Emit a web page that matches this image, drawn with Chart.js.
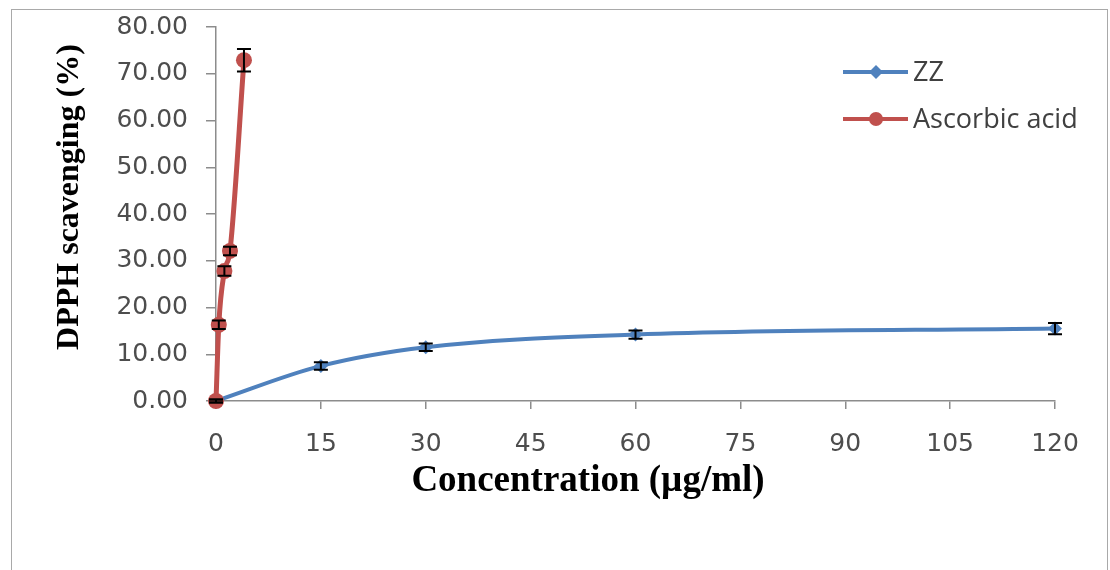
<!DOCTYPE html>
<html>
<head>
<meta charset="utf-8">
<script src="https://cdn.jsdelivr.net/npm/chart.js@4.4.1/dist/chart.umd.min.js"></script>
<style>
  html, body { margin: 0; padding: 0; background: #fff; overflow: hidden; }
  #frame { position: absolute; left: 11px; top: 9px; width: 1095px; height: 620px; border: 1.5px solid #a9a9a9; }
  #wrap { position: absolute; left: 0; top: 0; width: 1110px; height: 570px; }
</style>
</head>
<body>
<div id="frame"></div>
<div id="wrap"><canvas id="dpphChart"></canvas></div>
<script>
// values
const zzConc = [0, 15, 30, 60, 120];
const zzScavenging = [0, 7.5, 11.5, 14.2, 15.5];
const zzError = [0.3, 0.8, 0.8, 0.9, 1.2];

const ascorbicConc = [0, 0.4, 1.2, 2, 4];
const ascorbicScavenging = [0, 16.3, 27.8, 32.1, 72.9];
const ascorbicError = [0.3, 0.9, 1.0, 0.9, 2.4];

const xTicks = [0, 15, 30, 45, 60, 75, 90, 105, 120];
const yTicks = [0, 10, 20, 30, 40, 50, 60, 70, 80];

const seriesNames = ['ZZ', 'Ascorbic acid'];
const blue = '#4f81bd';
const red = '#c0504d';
const axisGrey = '#8c8c8c';
const labelGrey = '#4d4d4d';

const toPoints = (xs, ys) => xs.map((v, i) => ({ x: v, y: ys[i] }));

const errorBars = {
  id: 'errorBars',
  afterDatasetsDraw(chart) {
    const { ctx, scales: { x, y } } = chart;
    ctx.save();
    ctx.strokeStyle = '#000';
    ctx.lineWidth = 2;
    chart.data.datasets.forEach(ds => {
      ds.data.forEach((p, i) => {
        const e = ds.errors[i];
        if (!e) return;
        const px = x.getPixelForValue(p.x);
        const top = y.getPixelForValue(p.y + e);
        const bot = y.getPixelForValue(p.y - e);
        ctx.beginPath();
        ctx.moveTo(px, top); ctx.lineTo(px, bot);
        ctx.moveTo(px - 7, top); ctx.lineTo(px + 7, top);
        ctx.moveTo(px - 7, bot); ctx.lineTo(px + 7, bot);
        ctx.stroke();
      });
    });
    ctx.restore();
  }
};

// legend and axis titles drawn by hand so they can sit where the original has them
const extras = {
  id: 'extras',
  afterDraw(chart) {
    const ctx = chart.ctx;
    ctx.save();
    const rows = [
      { name: seriesNames[0], color: blue, style: 'rectRot', y: 72 },
      { name: seriesNames[1], color: red, style: 'circle', y: 119 }
    ];
    rows.forEach(r => {
      ctx.strokeStyle = r.color;
      ctx.lineWidth = 4;
      ctx.beginPath();
      ctx.moveTo(843, r.y); ctx.lineTo(908, r.y);
      ctx.stroke();
      ctx.fillStyle = r.color;
      Chart.helpers.drawPoint(ctx, { pointStyle: r.style, radius: 7, borderWidth: 0 }, 876, r.y);
      ctx.fillStyle = '#404040';
      ctx.font = '27px "Open Sans"';
      ctx.textBaseline = 'middle';
      ctx.textAlign = 'left';
      ctx.fillText(r.name, 913, r.y + 1);
    });

    ctx.fillStyle = '#000';
    ctx.font = 'bold 37px "Liberation Serif"';
    ctx.textAlign = 'center';
    ctx.textBaseline = 'middle';
    ctx.fillText('Concentration (µg/ml)', 588, 481);

    ctx.translate(70, 197);
    ctx.rotate(-Math.PI / 2);
    ctx.font = 'bold 32px "Liberation Serif"';
    ctx.fillText('DPPH scavenging (%)', 0, 0);
    ctx.restore();
  }
};

new Chart(document.getElementById('dpphChart'), {
  type: 'line',
  data: {
    datasets: [
      {
        label: seriesNames[0],
        data: toPoints(zzConc, zzScavenging),
        errors: zzError,
        borderColor: blue,
        backgroundColor: blue,
        borderWidth: 4,
        pointStyle: 'rectRot',
        pointRadius: 7,
        pointBorderWidth: 0,
        cubicInterpolationMode: 'monotone',
        clip: false,
        order: 2
      },
      {
        label: seriesNames[1],
        data: toPoints(ascorbicConc, ascorbicScavenging),
        errors: ascorbicError,
        borderColor: red,
        backgroundColor: red,
        borderWidth: 5,
        pointStyle: 'circle',
        pointRadius: 8,
        pointBorderWidth: 0,
        cubicInterpolationMode: 'monotone',
        clip: false,
        order: 1
      }
    ]
  },
  options: {
    responsive: true,
    maintainAspectRatio: false,
    animation: false,
    layout: { padding: { left: 0, top: 27, right: 55, bottom: 69 } },
    plugins: { legend: { display: false }, tooltip: { enabled: false } },
    scales: {
      x: {
        type: 'linear',
        min: 0,
        max: 120,
        afterBuildTicks: s => { s.ticks = xTicks.map(v => ({ value: v })); },
        afterFit: s => { s.height = 100; s.paddingLeft = 0; s.paddingRight = 0; },
        ticks: { color: labelGrey, font: { family: 'DejaVu Sans', size: 25 }, padding: 20, maxRotation: 0 },
        grid: { drawOnChartArea: false, drawTicks: true, tickLength: 8, color: axisGrey, lineWidth: 1.5 },
        border: { color: axisGrey, width: 1.5 }
      },
      y: {
        min: 0,
        max: 80,
        afterBuildTicks: s => { s.ticks = yTicks.map(v => ({ value: v })); },
        afterFit: s => { s.width = 216; s.paddingTop = 0; s.paddingBottom = 0; },
        ticks: { color: labelGrey, font: { family: 'DejaVu Sans', size: 25 }, padding: 18, callback: v => v.toFixed(2) },
        grid: { drawOnChartArea: false, drawTicks: true, tickLength: 10, color: axisGrey, lineWidth: 1.5 },
        border: { color: axisGrey, width: 1.5 }
      }
    }
  },
  plugins: [errorBars, extras]
});
</script>
</body>
</html>
